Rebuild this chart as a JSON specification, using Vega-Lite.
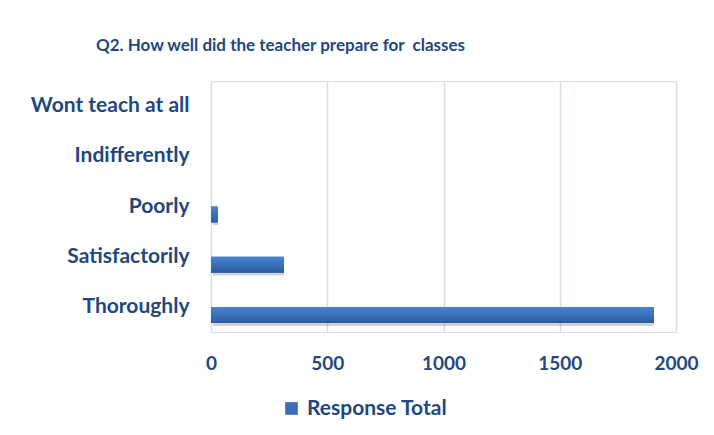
{
  "$schema": "https://vega.github.io/schema/vega-lite/v6.json",
  "width": 465,
  "height": 251,
  "autosize": "none",
  "padding": {"left": 211, "top": 81, "right": 38, "bottom": 103},
  "background": "white",
  "title": {
    "text": "Q2. How well did the teacher prepare for\u00a0 classes",
    "font": "Lato",
    "fontSize": 17,
    "fontWeight": "bold",
    "color": "#1f487c",
    "anchor": "middle",
    "frame": "group",
    "dx": -163,
    "offset": 26
  },
  "data": {
    "values": [
      {"category": "Wont teach at all", "value": 0},
      {"category": "Indifferently", "value": 0},
      {"category": "Poorly ", "value": 30},
      {"category": "Satisfactorily", "value": 314},
      {"category": "Thoroughly", "value": 1905}
    ]
  },
  "encoding": {
    "y": {
      "field": "category",
      "type": "nominal",
      "sort": ["Wont teach at all", "Indifferently", "Poorly ", "Satisfactorily", "Thoroughly"],
      "scale": {"paddingInner": 0, "paddingOuter": 0},
      "axis": {
        "title": null,
        "ticks": false,
        "domain": false,
        "grid": false,
        "labelPadding": 22,
        "labelFont": "Lato",
        "labelFontSize": 21,
        "labelFontWeight": "bold",
        "labelColor": "#1f487c"
      }
    },
    "x": {
      "field": "value",
      "type": "quantitative",
      "scale": {"domain": [0, 2000], "nice": false},
      "axis": {
        "title": null,
        "values": [0, 500, 1000, 1500, 2000],
        "format": "d",
        "ticks": false,
        "domain": false,
        "grid": true,
        "gridColor": "#d3dff0",
        "gridWidth": 1.5,
        "labelPadding": 22,
        "labelFont": "Lato",
        "labelFontSize": 19,
        "labelFontWeight": "bold",
        "labelColor": "#1f487c",
        "labelFlush": false
      }
    }
  },
  "layer": [
    {
      "mark": {"type": "bar", "size": 16, "yOffset": 11, "xOffset": 2, "color": "#000000", "opacity": 0.18, "cornerRadius": 1}
    },
    {
      "mark": {"type": "bar", "size": 16, "yOffset": 8},
      "encoding": {
        "color": {
          "datum": "Response Total",
          "scale": {"range": ["#3a6fb8"]},
          "legend": {
            "title": null,
            "orient": "none",
            "legendX": 70,
            "legendY": 317,
            "symbolType": "square",
            "symbolSize": 160,
            "symbolStrokeWidth": 0,
            "labelFont": "Lato",
            "labelFontSize": 21,
            "labelFontWeight": "bold",
            "labelColor": "#1f487c",
            "labelOffset": 5
          }
        }
      }
    },
    {
      "mark": {
        "type": "bar",
        "size": 16,
        "yOffset": 8,
        "fill": {
          "gradient": "linear",
          "x1": 0, "y1": 0, "x2": 0, "y2": 1,
          "stops": [
            {"offset": 0, "color": "#4a84d0"},
            {"offset": 0.5, "color": "#3a70bb"},
            {"offset": 1, "color": "#2c5b9b"}
          ]
        }
      }
    }
  ]
}
